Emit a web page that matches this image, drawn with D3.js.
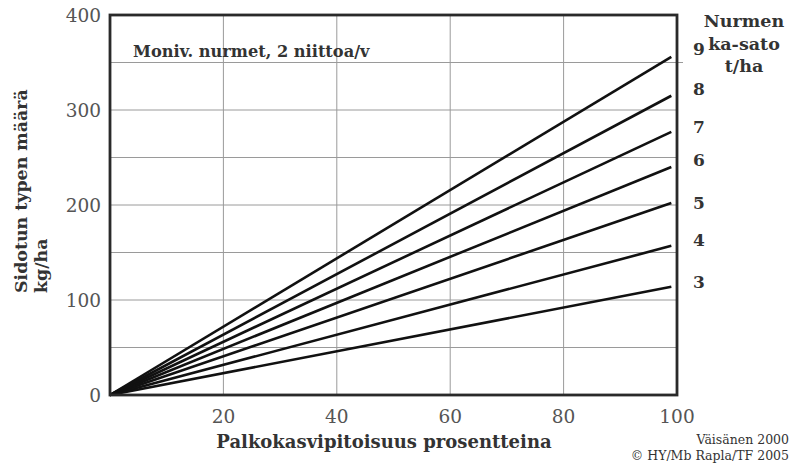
<!DOCTYPE html>
<html><head><meta charset="utf-8">
<script src="https://cdn.jsdelivr.net/npm/d3@7"></script>
<style>body{margin:0;background:#fff}svg{display:block}text{font-family:"DejaVu Serif",serif}</style>
</head><body><svg id="c" width="790" height="465"></svg>
<script>
const xTicks = [20, 40, 60, 80, 100];
const yTicks = [0, 100, 200, 300, 400];
const yGrid = [50, 100, 150, 200, 250, 300, 350];
const yields = [9, 8, 7, 6, 5, 4, 3];
const xRange = [0, 99];
const endValues = [356, 315, 277, 240, 202, 157, 114];
const labelValues = [364, 322, 282, 248, 202, 163, 119];

const svg = d3.select("#c");
const m = {l:110, r:677, t:15, b:395};
const x = d3.scaleLinear().domain([0,100]).range([m.l, m.r]);
const y = d3.scaleLinear().domain([0,400]).range([m.b, m.t]);

// grid
svg.append("g").selectAll("line").data(xTicks.slice(0,-1)).join("line")
  .attr("x1", d=>x(d)).attr("x2", d=>x(d)).attr("y1", m.t).attr("y2", m.b)
  .attr("stroke","#9a9a9a").attr("stroke-width",1);
svg.append("g").selectAll("line").data(yGrid).join("line")
  .attr("x1", m.l).attr("x2", d=> d===350 ? m.r+6 : m.r).attr("y1", d=>y(d)).attr("y2", d=>y(d))
  .attr("stroke","#9a9a9a").attr("stroke-width",1);

// lines
const line = d3.line().x(d=>x(d[0])).y(d=>y(d[1]));
svg.append("g").selectAll("path").data(endValues).join("path")
  .attr("d", v => line([[xRange[0],0],[xRange[1],v]]))
  .attr("fill","none").attr("stroke","#111").attr("stroke-width",2.6);

// frame
svg.append("rect").attr("x",m.l).attr("y",m.t).attr("width",m.r-m.l).attr("height",m.b-m.t)
  .attr("fill","none").attr("stroke","#2a2a2a").attr("stroke-width",2.8);

// axes labels
svg.append("g").selectAll("text").data(yTicks).join("text")
  .attr("x", 101).attr("y", d=>y(d)).attr("dy","0.36em").attr("text-anchor","end")
  .attr("font-size",18.5).attr("fill","#555").text(d=>d);
svg.append("g").selectAll("text").data(xTicks).join("text")
  .attr("x", d=>x(d)).attr("y", 423).attr("text-anchor","middle")
  .attr("font-size",18.5).attr("fill","#555").text(d=>d);

svg.append("text").attr("x",384).attr("y",448).attr("text-anchor","middle")
  .attr("font-size",18).attr("font-weight","bold").attr("fill","#333").text("Palkokasvipitoisuus prosentteina");
const yt = svg.append("text").attr("transform","translate(27,293) rotate(-90)").attr("text-anchor","start")
  .attr("font-size",17.4).attr("font-weight","bold").attr("fill","#333");
yt.append("tspan").attr("x",0).attr("dy",0).text("Sidotun typen määrä");
yt.append("tspan").attr("x",0).attr("dy",20).text("kg/ha");

svg.append("text").attr("x",133).attr("y",57).attr("font-size",16.2).attr("font-weight","bold").attr("fill","#333")
  .text("Moniv. nurmet, 2 niittoa/v");

// yield labels
svg.append("g").selectAll("text").data(yields).join("text")
  .attr("x",693).attr("y",(d,i)=>y(labelValues[i])).attr("dy","0.36em")
  .attr("font-size",17).attr("font-weight","bold").attr("fill","#333").text(d=>d);
const lg = svg.append("text").attr("text-anchor","middle").attr("font-size",17.5).attr("font-weight","bold").attr("fill","#333");
lg.append("tspan").attr("x",744).attr("y",27).text("Nurmen");
lg.append("tspan").attr("x",744).attr("y",50).text("ka-sato");
lg.append("tspan").attr("x",744).attr("y",72).text("t/ha");

svg.append("text").attr("x",789).attr("y",444).attr("text-anchor","end").attr("font-size",12.5).attr("fill","#333").text("Väisänen 2000");
svg.append("text").attr("x",789).attr("y",460).attr("text-anchor","end").attr("font-size",12.5).attr("fill","#333").text("© HY/Mb Rapla/TF 2005");
</script></body></html>
